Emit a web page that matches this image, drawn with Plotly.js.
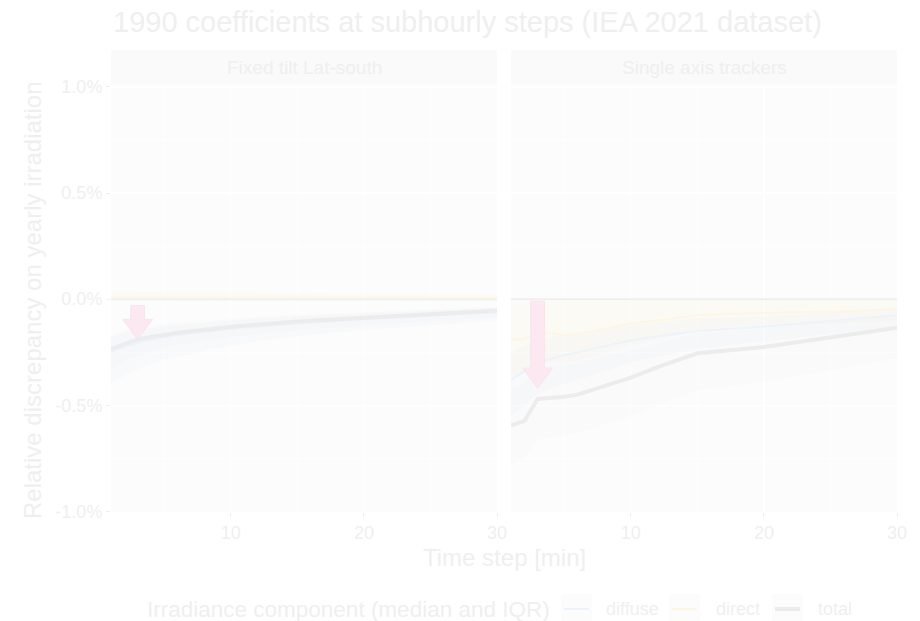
<!DOCTYPE html>
<html>
<head>
<meta charset="utf-8">
<script src="https://cdn.plot.ly/plotly-3.0.1.min.js"></script>
<style>html,body{margin:0;padding:0;background:#fff}#chart{width:920px;height:621px}</style>
</head>
<body>
<div id="chart"></div>
<script>
// ---- data (percent) ----
const steps = [1, 2, 3, 4, 5, 6, 10, 12, 15, 20, 30];
const panels = ["Fixed tilt Lat-south", "Single axis trackers"];
const components = ["diffuse", "direct", "total"];
const legendTitle = "Irradiance component (median and IQR)";

const fixTotalMed  = [-0.235, -0.21, -0.19, -0.178, -0.168, -0.158, -0.13, -0.12, -0.105, -0.088, -0.055];
const fixTotalQ1   = [-0.33, -0.29, -0.265, -0.245, -0.23, -0.215, -0.18, -0.165, -0.145, -0.125, -0.085];
const fixTotalQ3   = [-0.17, -0.15, -0.135, -0.125, -0.118, -0.11, -0.09, -0.083, -0.073, -0.06, -0.035];
const fixDiffuseMed = [-0.25, -0.225, -0.205, -0.19, -0.18, -0.17, -0.14, -0.13, -0.115, -0.095, -0.062];
const fixDiffuseQ1  = [-0.40, -0.36, -0.33, -0.305, -0.285, -0.27, -0.22, -0.2, -0.175, -0.145, -0.1];
const fixDiffuseQ3  = [-0.18, -0.16, -0.145, -0.135, -0.127, -0.12, -0.098, -0.09, -0.08, -0.066, -0.04];
const fixDirectMed = [0.008, 0.008, 0.008, 0.008, 0.008, 0.008, 0.007, 0.007, 0.007, 0.006, 0.006];
const fixDirectQ1  = [0.0, 0.0, 0.0, 0.0, 0.0, 0.0, 0.0, 0.0, 0.0, 0.0, 0.0];
const fixDirectQ3  = [0.035, 0.035, 0.034, 0.034, 0.033, 0.033, 0.03, 0.03, 0.028, 0.026, 0.024];

const satTotalMed  = [-0.595, -0.575, -0.47, -0.465, -0.46, -0.45, -0.37, -0.32, -0.255, -0.225, -0.135];
const satTotalQ1   = [-0.78, -0.75, -0.66, -0.65, -0.64, -0.63, -0.55, -0.5, -0.43, -0.39, -0.28];
const satTotalQ3   = [-0.42, -0.4, -0.32, -0.315, -0.31, -0.3, -0.24, -0.21, -0.16, -0.14, -0.07];
const satDiffuseMed = [-0.38, -0.34, -0.30, -0.28, -0.265, -0.25, -0.195, -0.175, -0.15, -0.13, -0.075];
const satDiffuseQ1  = [-0.55, -0.5, -0.45, -0.42, -0.4, -0.38, -0.3, -0.27, -0.235, -0.2, -0.13];
const satDiffuseQ3  = [-0.25, -0.22, -0.19, -0.18, -0.17, -0.16, -0.12, -0.11, -0.09, -0.08, -0.04];
const satDirectMed = [-0.19, -0.19, -0.15, -0.16, -0.17, -0.165, -0.115, -0.1, -0.075, -0.065, -0.05];
const satDirectQ1  = [-0.36, -0.35, -0.3, -0.3, -0.3, -0.29, -0.22, -0.19, -0.15, -0.13, -0.1];
const satDirectQ3  = [-0.02, -0.02, -0.01, -0.01, -0.01, -0.01, -0.005, 0.0, 0.0, 0.0, 0.0];

const yTickVals = [-1.0, -0.5, 0.0, 0.5, 1.0];
const yTickText = ["-1.0%", "-0.5%", "0.0%", "0.5%", "1.0%"];
const xTickVals = [10, 20, 30];
const xTickText = ["10", "20", "30"];

// arrows (one per panel): x position, start and tip values
const arrowX    = [3, 3];
const arrowFrom = [-0.03, -0.01];
const arrowTo   = [-0.19, -0.42];

// ---- styles ----
const FONT = '"Liberation Sans", Arial, sans-serif';
const TXT = '#efefef';
const lineCol = {diffuse: '#edf3fb', direct: '#fdf6e6', total: '#ececec'};
const lineW = {diffuse: 2, direct: 2, total: 4};
const fillCol = {diffuse: 'rgba(215,228,246,0.10)', direct: 'rgba(252,236,190,0.10)', total: 'rgba(210,210,210,0.05)'};

const series = [
  {ax: 'x',  comp: 'diffuse', med: fixDiffuseMed, q1: fixDiffuseQ1, q3: fixDiffuseQ3},
  {ax: 'x',  comp: 'direct',  med: fixDirectMed,  q1: fixDirectQ1,  q3: fixDirectQ3},
  {ax: 'x',  comp: 'total',   med: fixTotalMed,   q1: fixTotalQ1,   q3: fixTotalQ3},
  {ax: 'x2', comp: 'diffuse', med: satDiffuseMed, q1: satDiffuseQ1, q3: satDiffuseQ3},
  {ax: 'x2', comp: 'direct',  med: satDirectMed,  q1: satDirectQ1,  q3: satDirectQ3},
  {ax: 'x2', comp: 'total',   med: satTotalMed,   q1: satTotalQ1,   q3: satTotalQ3}
];

const traces = [];
// IQR ribbons
series.forEach(s => {
  traces.push({x: steps, y: s.q1, xaxis: s.ax, yaxis: 'y', mode: 'lines',
    line: {width: 0, color: 'rgba(0,0,0,0)'}, showlegend: false, hoverinfo: 'skip'});
  traces.push({x: steps, y: s.q3, xaxis: s.ax, yaxis: 'y', mode: 'lines', fill: 'tonexty',
    fillcolor: fillCol[s.comp], line: {width: 0, color: 'rgba(0,0,0,0)'}, showlegend: false, hoverinfo: 'skip'});
});
// zero reference line on each panel
['x', 'x2'].forEach(ax => {
  traces.push({x: [steps[0], steps[steps.length - 1]], y: [0, 0], xaxis: ax, yaxis: 'y', mode: 'lines',
    line: {color: '#efefef', width: 2}, showlegend: false, hoverinfo: 'skip'});
});
// median lines
series.forEach(s => {
  traces.push({x: steps, y: s.med, xaxis: s.ax, yaxis: 'y', mode: 'lines', name: s.comp,
    legendgroup: s.comp, showlegend: false,
    line: {color: lineCol[s.comp], width: lineW[s.comp]}});
});

// helpers: pixel -> paper coordinates (plot area 111..897 x, 84..512 y)
const PX = px => (px - 111) / 786;
const PY = py => (512 - py) / 428;

// block arrows built from the arrow arrays
const shapes = [];
const arrowAxes = ['x', 'x2'];
arrowX.forEach((ax0, i) => {
  const sw = 0.52, hw = 1.12, hl = 0.095;
  const f = arrowFrom[i], t = arrowTo[i];
  const p = `M ${ax0 - sw} ${f} L ${ax0 + sw} ${f} L ${ax0 + sw} ${t + hl} L ${ax0 + hw} ${t + hl} L ${ax0} ${t} L ${ax0 - hw} ${t + hl} L ${ax0 - sw} ${t + hl} Z`;
  shapes.push({type: 'path', path: p, xref: arrowAxes[i], yref: 'y', fillcolor: '#fbe8f0',
    line: {color: '#fae4ed', width: 1}, layer: 'above'});
});
// facet strips
const stripH = 34 / 428;
['x', 'x2'].forEach(ax => {
  shapes.push({type: 'rect', xref: ax + ' domain', yref: 'paper', x0: 0, x1: 1, y0: 1, y1: 1 + stripH,
    fillcolor: '#fafafa', line: {width: 0}, layer: 'below'});
});

const annotations = panels.map((p, i) => ({
  text: p, xref: (i === 0 ? 'x' : 'x2') + ' domain', yref: 'paper', x: 0.5, y: 1 + stripH / 2,
  xanchor: 'center', yanchor: 'middle', showarrow: false, font: {family: FONT, size: 19, color: TXT}
}));
annotations.push({text: 'Time step [min]', xref: 'paper', yref: 'paper', x: 0.5, y: PY(557),
  xanchor: 'center', yanchor: 'middle', showarrow: false, font: {family: FONT, size: 24, color: TXT}});
annotations.push({text: 'Relative discrepancy on yearly irradiation', xref: 'paper', yref: 'paper',
  x: PX(32), y: PY(300), textangle: -90, xanchor: 'center', yanchor: 'middle',
  showarrow: false, font: {family: FONT, size: 24, color: TXT}});

// legend drawn by hand (ggplot style keys with a light box)
const legY = 609;
const keyLeft = [561, 669, 772];
const labelLeft = [604, 714, 816];
annotations.push({text: legendTitle, xref: 'paper', yref: 'paper', x: PX(145), y: PY(legY),
  xanchor: 'left', yanchor: 'middle', showarrow: false, font: {family: FONT, size: 22.5, color: TXT}});
components.forEach((c, i) => {
  shapes.push({type: 'rect', xref: 'paper', yref: 'paper', x0: PX(keyLeft[i]), x1: PX(keyLeft[i] + 31),
    y0: PY(legY + 15), y1: PY(legY - 15), fillcolor: '#fcfcfc', line: {width: 0}});
  shapes.push({type: 'line', xref: 'paper', yref: 'paper', x0: PX(keyLeft[i] + 3), x1: PX(keyLeft[i] + 28),
    y0: PY(legY), y1: PY(legY), line: {color: lineCol[c], width: lineW[c]}});
  annotations.push({text: c, xref: 'paper', yref: 'paper', x: PX(labelLeft[i]), y: PY(legY),
    xanchor: 'left', yanchor: 'middle', showarrow: false, font: {family: FONT, size: 18, color: TXT}});
});

const xCommon = {
  range: [1, 30], tickvals: xTickVals, ticktext: xTickText, ticks: 'outside', ticklen: 4,
  tickcolor: '#efefef', tickwidth: 1, showgrid: true, gridcolor: '#ffffff', gridwidth: 1.2,
  zeroline: false, showline: false, tickfont: {family: FONT, size: 18, color: TXT},
  minor: {tickvals: [5, 15, 25], showgrid: true, gridcolor: '#ffffff', gridwidth: 0.6},
  anchor: 'y', fixedrange: true, automargin: false
};

const layout = {
  width: 920, height: 621,
  margin: {l: 111, r: 23, t: 84, b: 109, autoexpand: false},
  paper_bgcolor: '#ffffff', plot_bgcolor: '#fcfcfc',
  font: {family: FONT, color: TXT},
  title: {text: '1990 coefficients at subhourly steps (IEA 2021 dataset)', x: 113 / 920, xanchor: 'left',
    xref: 'container', y: 1 - 22 / 621, yref: 'container', yanchor: 'middle', automargin: false,
    font: {family: FONT, size: 29, color: TXT}},
  xaxis: Object.assign({}, xCommon, {domain: [0, 386 / 786]}),
  xaxis2: Object.assign({}, xCommon, {domain: [400 / 786, 1]}),
  yaxis: {range: [-1.003, 1.014], tickvals: yTickVals, ticktext: yTickText, ticks: 'outside', ticklen: 4,
    tickcolor: '#efefef', showgrid: true, gridcolor: '#ffffff', gridwidth: 1.2, zeroline: false,
    minor: {tickvals: [-0.75, -0.25, 0.25, 0.75], showgrid: true, gridcolor: '#ffffff', gridwidth: 0.6},
    tickfont: {family: FONT, size: 18, color: TXT}, anchor: 'x', fixedrange: true, automargin: false},
  showlegend: false,
  shapes: shapes,
  annotations: annotations
};

Plotly.newPlot('chart', traces, layout, {displayModeBar: false, staticPlot: true});
</script>
</body>
</html>
